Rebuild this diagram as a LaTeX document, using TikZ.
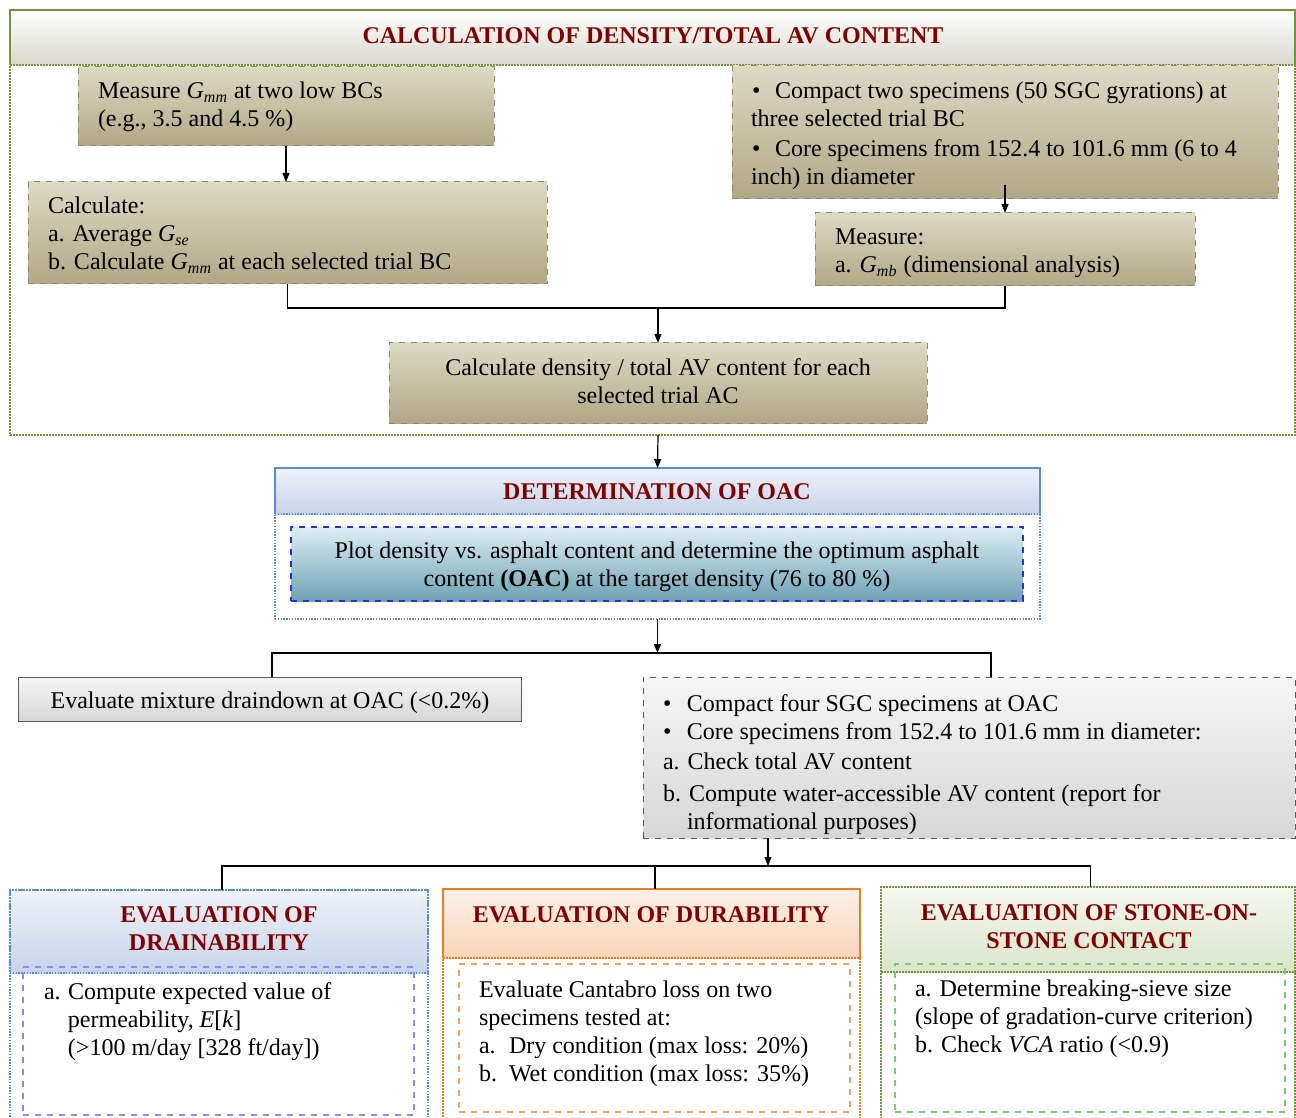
\documentclass[tikz,border=0pt]{standalone}
\usepackage{fontspec}
\setmainfont{Liberation Serif}
\usetikzlibrary{fit,arrows.meta,calc}
\definecolor{ttlred}{HTML}{800000}
\definecolor{greenbd}{HTML}{76923C}
\definecolor{olivetop}{HTML}{DDD9C3}
\definecolor{olivebot}{HTML}{B0A886}
\definecolor{olivebd}{HTML}{8C8C6C}
\definecolor{hdrbot}{HTML}{D8D8CC}
\definecolor{bluebd}{HTML}{5B8DD6}
\definecolor{bluehtop}{HTML}{EEF2F9}
\definecolor{bluehbot}{HTML}{C6D4EA}
\definecolor{oacbd}{HTML}{2B2BE0}
\definecolor{oactop}{HTML}{DDEEF4}
\definecolor{oacbot}{HTML}{6EA2B4}
\definecolor{graybd}{HTML}{5A5A5A}
\definecolor{graytop}{HTML}{F6F6F6}
\definecolor{graybot}{HTML}{D6D6D6}
\definecolor{orangebd}{HTML}{F07D22}
\definecolor{orangetop}{HTML}{FDF1E8}
\definecolor{orangebot}{HTML}{F8D4B8}
\definecolor{orangein}{HTML}{F5A060}
\definecolor{greentop}{HTML}{F4F8EE}
\definecolor{greenbot}{HTML}{D9E5C9}
\definecolor{greenin}{HTML}{7CCB7C}
\definecolor{bluein}{HTML}{8C8CF0}
\newcommand{\Gsub}[1]{\textit{G}\textsubscript{\textit{#1}}}
\begin{document}
\begin{tikzpicture}[x=0.5pt,y=-0.5pt,
  every node/.style={inner sep=0pt, outer sep=0pt},
  txt/.style={font=\fontsize{12}{14}\selectfont, align=left, anchor=north west},
  ctxt/.style={font=\fontsize{12}{14}\selectfont, align=center, anchor=north},
  ttl/.style={font=\fontsize{12}{14}\selectfont\bfseries, text=ttlred, align=center, anchor=north},
  fitbox/.style={fit={#1}, inner sep=0pt},
  olive/.style={draw=olivebd, dashed, top color=olivetop, bottom color=olivebot, line width=0.5pt},
  gdot/.style={draw=greenbd, line width=1.3pt, dash pattern=on 0.8pt off 0.7pt},
  bdot/.style={draw=bluebd, line width=0.9pt, dash pattern=on 0.7pt off 0.7pt},
  odot/.style={draw=orangebd, line width=1.2pt, dash pattern=on 0.8pt off 0.7pt},
  arr/.style={-{Triangle[length=4.5pt,width=3.5pt]}, line width=0.6pt},
  conn/.style={line width=0.6pt},
]
\useasboundingbox (0,0) rectangle (1296,1118);

% ---------- Calculation of density ----------
\node[fitbox={(10,10)(1295,65)}, gdot, top color=white, bottom color=hdrbot] (calchdr) {};
\node[fitbox={(10,10)(1295,435)}, gdot] (calc) {};
\node[ttl] (calcttl) at (653,24) {\strut CALCULATION OF DENSITY/TOTAL AV CONTENT};

\node[fitbox={(78,67)(494,146)}, olive] (A) {};
\node[txt] (tA) at (98,79.4) {\strut Measure \Gsub{mm} at two low BCs\\(e.g., 3.5 and 4.5 \%)};

\node[fitbox={(28,182)(547,284)}, olive] (B) {};
\node[txt] (tB) at (48,194.4) {\strut Calculate:\\a. Average \Gsub{se}\\b. Calculate \Gsub{mm} at each selected trial BC};

\node[fitbox={(732,66)(1278,199)}, olive] (C) {};
\node[txt] (tC) at (751,79.4) {\strut\makebox[12pt][l]{\hspace*{0.5pt}\textbullet}Compact two specimens (50 SGC gyrations) at\\three selected trial BC\\[1pt]
\makebox[12pt][l]{\hspace*{0.5pt}\textbullet}Core specimens from 152.4 to 101.6 mm (6 to 4\\inch) in diameter};

\node[fitbox={(815,213)(1195,286)}, olive] (D) {};
\node[txt] (tD) at (835,225.4) {\strut Measure:\\a. \Gsub{mb} (dimensional analysis)};

\node[fitbox={(389,343)(927,423)}, olive] (E) {};
\node[ctxt] (tE) at (658,355.4) {\strut Calculate density / total AV content for each\\selected trial AC};

\coordinate (j1) at (658,308);
\draw[arr] (A.south) -- (A.south |- B.north);
\draw[arr] ([yshift=7pt]C.south) -- (D.north);
\draw[conn] (B.south) -- (B.south |- j1) -- (D.south |- j1) -- (D.south);
\draw[arr] (j1) -- (E.north);

% ---------- Determination of OAC ----------
\node[fitbox={(275,468)(1040,514)}, bdot, top color=bluehtop, bottom color=bluehbot] (oachdr) {};
\node[fitbox={(275,468)(1040,619)}, bdot] (OAC) {};
\node[ttl] (oacttl) at (657,480) {\strut DETERMINATION OF OAC};
\node[fitbox={(291,527)(1023,601)}, draw=oacbd, dashed, line width=0.6pt, top color=oactop, bottom color=oacbot] (P) {};
\node[ctxt] (tP) at (657,538.4) {\strut Plot density vs. asphalt content and determine the optimum asphalt\\content \textbf{(OAC)} at the target density (76 to 80 \%)};

\draw[arr] (E.south |- calc.south) -- (OAC.north);

% ---------- Evaluation after OAC ----------
\node[fitbox={(18,677)(521,721)}, draw=graybd, line width=0.5pt, top color=graytop, bottom color=graybot] (F) {};
\node[ctxt] (tF) at (270,688.4) {\strut Evaluate mixture draindown at OAC (<0.2\%)};

\node[fitbox={(643,677)(1295,838)}, draw=graybd, dashed, line width=0.5pt, top color=graytop, bottom color=graybot] (G) {};
\node[txt] (tG) at (663,691.4) {\strut\makebox[12pt][l]{\textbullet}Compact four SGC specimens at OAC\\
\makebox[12pt][l]{\textbullet}Core specimens from 152.4 to 101.6 mm in diameter:\\[1pt]
a. Check total AV content\\[2pt]
b. Compute water-accessible AV content (report for\\
\hspace*{12pt}informational purposes)};

\coordinate (j2) at (657,653);
\draw[arr] (OAC.south) -- (OAC.south |- j2);
\draw[conn] ([xshift=1.25pt]F.north) |- (j2) -| ([xshift=11pt]G.north);

% ---------- three evaluations ----------
\node[fitbox={(10,890)(428,973)}, bdot, top color=bluehtop, bottom color=bluehbot] (Hh) {};
\node[fitbox={(10,890)(428,1125)}, bdot] (H) {};
\node[ttl] (tHh) at (219,903) {\strut EVALUATION OF\\DRAINABILITY};
\node[fitbox={(23,967)(414,1115)}, draw=bluein, dashed, line width=0.6pt] (Hi) {};
\node[txt] (tH) at (44,979.4) {\strut\makebox[12pt][l]{a.}Compute expected value of\\
\hspace*{12pt}permeability, \textit{E}[\textit{k}]\\
\hspace*{12pt}(>100 m/day [328 ft/day])};

\node[fitbox={(443,889)(860,958)}, odot, top color=orangetop, bottom color=orangebot] (Ih) {};
\node[fitbox={(443,889)(860,1125)}, odot] (I) {};
\node[ttl] (tIh) at (651,903) {\strut EVALUATION OF DURABILITY};
\node[fitbox={(459,964)(850,1112)}, draw=orangein, dashed, line width=0.6pt] (Ii) {};
\node[txt] (tI) at (479,977.4) {\strut Evaluate Cantabro loss on two\\
specimens tested at:\\
\makebox[15pt][l]{a.}Dry condition (max loss: 20\%)\\
\makebox[15pt][l]{b.}Wet condition (max loss: 35\%)};

\node[fitbox={(881,887)(1295,972)}, gdot, top color=greentop, bottom color=greenbot] (Jh) {};
\node[fitbox={(881,887)(1295,1125)}, gdot] (J) {};
\node[ttl] (tJh) at (1089,901) {\strut EVALUATION OF STONE-ON-\\STONE CONTACT};
\node[fitbox={(895,964)(1285,1112)}, draw=greenin, dashed, line width=0.6pt] (Ji) {};
\node[txt] (tJ) at (915,976.4) {\strut a. Determine breaking-sieve size\\
(slope of gradation-curve criterion)\\
b. Check \textit{VCA} ratio (<0.9)};

\coordinate (j3) at (768,866);
\draw[arr] ([xshift=-100.5pt]G.south) -- (j3);
\draw[conn] ([xshift=1.5pt]H.north) |- (j3) -| ([xshift=1.25pt]J.north);
\draw[conn] ([xshift=1.75pt]I.north) -- ([xshift=1.75pt]I.north |- j3);
\end{tikzpicture}
\end{document}
